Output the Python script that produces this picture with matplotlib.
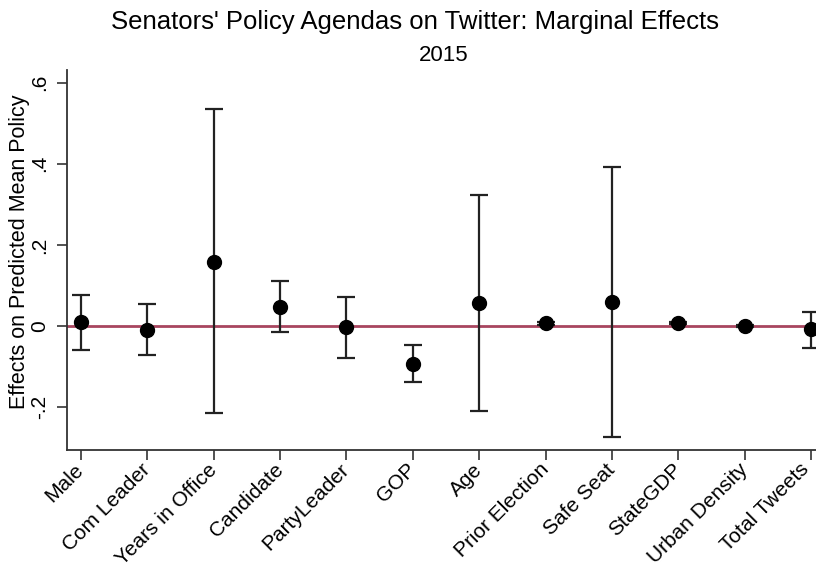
import matplotlib
matplotlib.use("Agg")
import matplotlib.pyplot as plt
import matplotlib.transforms as mtransforms
import numpy as np

plt.rcParams['font.family'] = ['Liberation Sans', 'DejaVu Sans']

# Marginal effects with 95% confidence bounds
variables = ["Male", "Com Leader", "Years in Office", "Candidate", "PartyLeader",
             "GOP", "Age", "Prior Election", "Safe Seat", "StateGDP",
             "Urban Density", "Total Tweets"]
effect = [0.011, -0.009, 0.159, 0.048, -0.003, -0.092, 0.056, 0.007, 0.059, 0.008, 0.000, -0.008]
upper = [0.076, 0.054, 0.535, 0.111, 0.072, -0.046, 0.322, 0.010, 0.393, 0.011, 0.003, 0.035]
lower = [-0.058, -0.071, -0.214, -0.014, -0.079, -0.138, -0.208, 0.004, -0.273, 0.005, -0.003, -0.053]

yticks = [-0.2, 0, 0.2, 0.4, 0.6]
ytick_labels = ["-.2", "0", ".2", ".4", ".6"]

W, H = 816, 568
fig = plt.figure(figsize=(W / 100, H / 100), dpi=100)

# axes box in pixel units (extends a bit past the right edge)
left_px, right_px, top_px, bottom_px = 67, 825, 70, 450
ax = fig.add_axes([left_px / W, 1 - bottom_px / H,
                   (right_px - left_px) / W, (bottom_px - top_px) / H])

x = np.arange(1, len(variables) + 1)
eff = np.array(effect)
yerr = np.vstack([eff - np.array(lower), np.array(upper) - eff])

ax.axhline(0, color='#a8455f', lw=2.0, zorder=1)
ax.errorbar(x, eff, yerr=yerr, fmt='o', color='black', ecolor='#222222',
            elinewidth=1.6, capsize=6.5, capthick=1.6, markersize=10, zorder=3)

ax.set_xlim(0.79, 12.21)
ax.set_ylim(-0.305, 0.631)

ax.spines['top'].set_visible(False)
ax.spines['right'].set_visible(False)
for s in ('left', 'bottom'):
    ax.spines[s].set_linewidth(1.3)
    ax.spines[s].set_color('#333333')

ax.set_yticks(yticks)
ax.set_yticklabels(ytick_labels, rotation=90, va='center', fontsize=15)
ax.set_xticks(x)
ax.set_xticklabels(variables, rotation=45, ha='right', va='center',
                   rotation_mode='anchor', fontsize=15)
ax.tick_params(axis='y', direction='out', length=7, width=1.2, color='#333333', pad=6)
ax.tick_params(axis='x', direction='out', length=7, width=1.2, color='#333333', pad=5)

# keep the last category label inside the figure edge
last = ax.get_xticklabels()[-1]
last.set_transform(last.get_transform() +
                   mtransforms.ScaledTranslation(-5 / 100, 0, fig.dpi_scale_trans))

ax.set_ylabel("Effects on Predicted Mean Policy", fontsize=15.5)
ax.yaxis.set_label_coords((30 - left_px) / (right_px - left_px),
                          (bottom_px - 252) / (bottom_px - top_px))

fig.text(415 / W, 1 - 29 / H, "Senators' Policy Agendas on Twitter: Marginal Effects",
         ha='center', va='baseline', fontsize=18.5)
fig.text(444 / W, 1 - 61 / H, "2015", ha='center', va='baseline', fontsize=16)

fig.savefig("out.png", dpi=100)
